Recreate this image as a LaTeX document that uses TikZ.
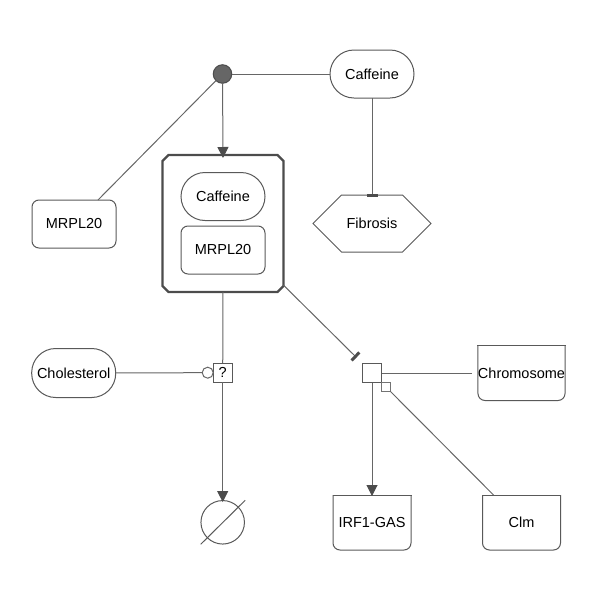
\documentclass[tikz,border=0pt]{standalone}
\usepackage{fontspec}
\setmainfont{Liberation Sans}
\usetikzlibrary{arrows.meta,calc}

\tikzset{
  glyph/.style={draw=black!65, line width=1pt, outer sep=0pt, inner sep=0pt,
    font=\fontsize{14.5}{17}\selectfont},
  simplechem/.style={glyph, rounded corners=24pt, minimum width=84pt, minimum height=48pt},
  macromol/.style={glyph, rounded corners=7pt, minimum width=84pt, minimum height=48pt},
  nafeat/.style={glyph, draw=none, minimum width=78pt, minimum height=55pt},
  complexbox/.style={glyph, draw=none, minimum width=121pt, minimum height=137pt},
  complexline/.style={draw=black!70, line width=2.4pt, line join=miter},
  procbox/.style={glyph, minimum size=19pt},
  assoc/.style={draw=black!70, fill=black!60, circle, line width=1pt,
    minimum size=18.5pt, inner sep=0pt, outer sep=0pt},
  arc/.style={draw=black!60, line width=1pt},
  prod/.style={arc, -{Triangle[length=11pt, width=11pt, fill=black!70, color=black!70]}},
  inhib/.style={arc, -{Bar[width=11pt, line width=3pt, color=black!70]}},
}

% nucleic acid feature: square top, rounded bottom
\newcommand{\nucfeat}[1]{%
  \draw[glyph, rounded corners=7pt] (#1.north west) -- (#1.south west)
    -- (#1.south east) -- (#1.north east);
  \draw[glyph, line cap=rect] (#1.north west) -- (#1.north east);
}
% complex: rectangle with cut corners
\newcommand{\cutbox}[2]{%
  \draw[complexline]
    ([xshift=#2]#1.north west) -- ([xshift=-#2]#1.north east)
    -- ([yshift=-#2]#1.north east) -- ([yshift=#2]#1.south east)
    -- ([xshift=-#2]#1.south east) -- ([xshift=#2]#1.south west)
    -- ([yshift=#2]#1.south west) -- ([yshift=-#2]#1.north west) -- cycle;
}

\begin{document}
\begin{tikzpicture}[x=1pt, y=-1pt]
  \useasboundingbox (0,0) rectangle (600,600);

  % species
  \node[simplechem] (caf) at (372,74) {Caffeine};
  \node[glyph, draw=none, minimum width=118pt, minimum height=57pt] (fib) at (372,223.5) {Fibrosis};
  \draw[glyph] (fib.west) -- ([xshift=28.5pt]fib.north west) -- ([xshift=-28.5pt]fib.north east)
    -- (fib.east) -- ([xshift=-28.5pt]fib.south east) -- ([xshift=28.5pt]fib.south west) -- cycle;

  \node[macromol] (mrpl) at (74,224) {MRPL20};

  \node[complexbox] (cplx) at (223,223.5) {};
  \cutbox{cplx}{6pt}
  \node[simplechem] (ccaf) at (223,196.5) {Caffeine};
  \node[macromol] (cmrpl) at (223,250) {MRPL20};

  \node[simplechem, minimum width=84pt, minimum height=49pt] (chol) at (73.7,373) {Cholesterol};

  \node[nafeat] (chr) at (521.5,373) {Chromosome};
  \nucfeat{chr}
  \node[nafeat] (irf) at (372,522.5) {IRF1-GAS};
  \nucfeat{irf}
  \node[nafeat] (clm) at (521.5,522.5) {Clm};
  \nucfeat{clm}

  % sink
  \node[glyph, circle, minimum size=43.5pt] (sink) at (222.7,522.3) {};
  \draw[glyph] ($(sink.center)+(-22,22)$) coordinate (s1) -- ($(sink.center)+(22.5,-22)$) coordinate (s2);

  % association and processes
  \node[assoc] (asso) at (222.5,74) {};
  \node[procbox] (p1) at (222.7,372.7) {?};
  \node[procbox] (p2) at (372,373) {};

  % connectors
  \draw[arc] (asso) -- (mrpl.north east -| 98,0) ;
  \draw[arc] (asso) -- (caf);
  \draw[prod] (asso) -- ([yshift=-3pt]cplx.north);
  \draw[inhib] (caf) -- ([yshift=-2pt]fib.north);

  \draw[arc] (cplx.south) -- (p1);
  \draw[prod] (p1) -- ([yshift=-1.5pt]sink.north);
  \draw[arc] (chol) -- ($(p1.west)+(-11,0)$);
  \draw[arc, fill=white] ($(p1.west)+(-5.5,0)$) circle (5.5pt);

  \coordinate (cc) at (283.3,285);
  \draw[inhib] (cc) -- ($(p2.north west)+(-6,-6)$);

  \draw[arc] (p2.east) -- ([xshift=-6pt]chr.west);
  \draw[prod] (p2.south) -- ([yshift=-1pt]irf.north);
  \node[draw=black!55, fill=white, line width=1pt, minimum size=8.5pt, inner sep=0pt, outer sep=0pt] (nec) at (386,387) {};
  \draw[arc] ([xshift=-28pt]clm.north) -- (nec.south east);
\end{tikzpicture}
\end{document}
